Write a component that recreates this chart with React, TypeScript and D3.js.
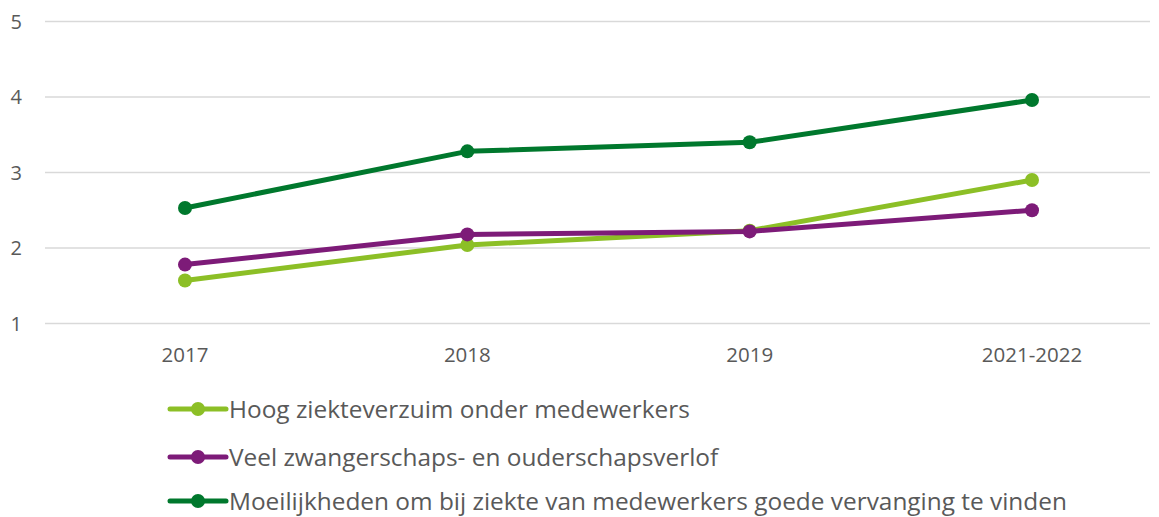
import React, { useEffect, useRef } from 'react';
import * as d3 from 'd3';

const categories = ['2017', '2018', '2019', '2021-2022'];
const yTicks = [1, 2, 3, 4, 5];
const seriesNames = [
  'Hoog ziekteverzuim onder medewerkers',
  'Veel zwangerschaps- en ouderschapsverlof',
  'Moeilijkheden om bij ziekte van medewerkers goede vervanging te vinden',
];
const hoogValues = [1.57, 2.04, 2.23, 2.9];
const veelValues = [1.78, 2.18, 2.22, 2.5];
const moeilijkValues = [2.53, 3.28, 3.4, 3.96];
const colors = ['#8cbf26', '#7d1b78', '#00782d'];

const App = () => {
  const ref = useRef<SVGSVGElement>(null);

  useEffect(() => {
    if (!ref.current) return;
    const svg = d3.select(ref.current);
    svg.selectAll('*').remove();
    const font = '"Open Sans", Calibri, sans-serif';
    const textColor = '#595959';

    const x = d3.scalePoint().domain(categories).range([185, 1032]);
    const y = d3.scaleLinear().domain([1, 5]).range([323.5, 21.5]);

    const grid = svg.append('g');
    grid.selectAll('line').data(yTicks).join('line')
      .attr('x1', 45).attr('x2', 1150)
      .attr('y1', d => y(d)).attr('y2', d => y(d))
      .attr('stroke', '#d9d9d9').attr('stroke-width', 1.5);
    grid.selectAll('text').data(yTicks).join('text')
      .attr('x', 22).attr('y', d => y(d)).attr('dy', '0.35em')
      .attr('text-anchor', 'end')
      .attr('font-family', font).attr('font-size', 20).attr('fill', textColor)
      .text(d => d);

    svg.append('g').selectAll('text').data(categories).join('text')
      .attr('x', d => x(d)!).attr('y', 355).attr('dy', '0.35em')
      .attr('text-anchor', 'middle')
      .attr('font-family', font).attr('font-size', 20.5).attr('fill', textColor)
      .text(d => d);

    const all = [hoogValues, veelValues, moeilijkValues];
    const line = d3.line<number>().x((_, i) => x(categories[i])!).y(d => y(d));
    all.forEach((vals, s) => {
      const g = svg.append('g');
      g.append('path').attr('d', line(vals)).attr('fill', 'none')
        .attr('stroke', colors[s]).attr('stroke-width', 5).attr('stroke-linejoin', 'round');
      g.selectAll('circle').data(vals).join('circle')
        .attr('cx', (_, i) => x(categories[i])!).attr('cy', d => y(d))
        .attr('r', 7).attr('fill', colors[s]);
    });

    const legend = svg.append('g');
    const rowY = [409, 457, 501];
    seriesNames.forEach((name, s) => {
      const row = legend.append('g').attr('transform', `translate(0,${rowY[s]})`);
      row.append('line').attr('x1', 170).attr('x2', 226).attr('y1', 0).attr('y2', 0)
        .attr('stroke', colors[s]).attr('stroke-width', 5).attr('stroke-linecap', 'round');
      row.append('circle').attr('cx', 198).attr('cy', 0).attr('r', 7).attr('fill', colors[s]);
      row.append('text').attr('x', 229).attr('y', 0).attr('dy', '0.35em')
        .attr('font-family', font).attr('font-size', 24.4).attr('fill', textColor)
        .text(name);
    });
  }, []);

  return (
    <svg ref={ref} width={1159} height={517}
      style={{ position: 'absolute', left: 0, top: 0, background: '#fff' }} />
  );
};

export default App;
